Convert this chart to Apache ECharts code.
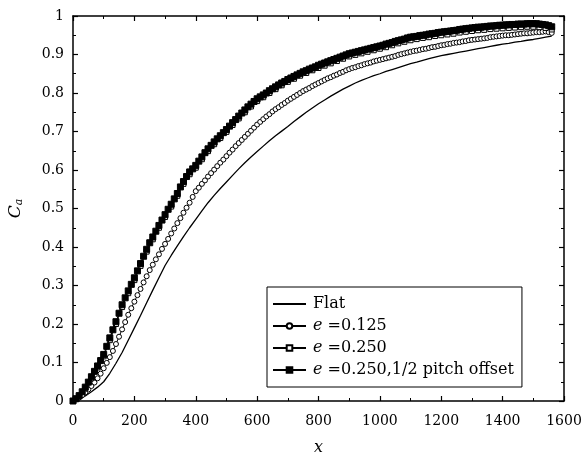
<!DOCTYPE html>
<html>
<head>
<meta charset="utf-8">
<script src="https://cdn.jsdelivr.net/npm/echarts@6/dist/echarts.min.js"></script>
<style>html,body{margin:0;padding:0;background:#fff}#c{width:583px;height:456px}</style>
</head>
<body>
<div id="c"></div>
<script>
// ---- data ----
const seriesNames = ['Flat', 'e =0.125', 'e =0.250', 'e =0.250,1/2 pitch offset'];
const xTickLabels = ['0', '200', '400', '600', '800', '1000', '1200', '1400', '1600'];
const yTickLabels = ['0', '0.1', '0.2', '0.3', '0.4', '0.5', '0.6', '0.7', '0.8', '0.9', '1'];

// Flat: sampled every 20 in x, starting at 0
const flatStep = 20;
const flatValues = [0.000,0.005,0.013,0.024,0.036,0.050,0.072,0.098,0.126,0.158,
0.190,0.222,0.255,0.288,0.320,0.352,0.378,0.403,0.427,0.450,
0.472,0.494,0.515,0.534,0.552,0.569,0.586,0.603,0.619,0.634,
0.648,0.662,0.676,0.689,0.701,0.713,0.726,0.738,0.750,0.761,
0.772,0.782,0.792,0.801,0.810,0.818,0.826,0.833,0.839,0.845,
0.850,0.856,0.861,0.866,0.871,0.876,0.880,0.885,0.889,0.893,
0.897,0.900,0.903,0.906,0.909,0.912,0.915,0.918,0.921,0.924,
0.927,0.929,0.932,0.934,0.937,0.939,0.942,0.945,0.948];

// e=0.125 (open circles): sampled every 10 in x
const e125Step = 10;
const e125Values = [0.000,0.004,0.009,0.015,0.022,0.030,0.039,0.048,0.059,0.071,
0.085,0.099,0.114,0.130,0.148,0.167,0.186,0.205,0.224,0.241,
0.258,0.275,0.291,0.308,0.324,0.340,0.354,0.368,0.381,0.395,
0.408,0.421,0.435,0.448,0.462,0.475,0.489,0.502,0.515,0.530,
0.545,0.554,0.564,0.573,0.583,0.592,0.601,0.610,0.619,0.627,
0.636,0.645,0.653,0.662,0.670,0.678,0.686,0.694,0.702,0.710,
0.718,0.725,0.732,0.739,0.745,0.752,0.758,0.763,0.769,0.774,
0.780,0.785,0.790,0.795,0.800,0.805,0.809,0.813,0.818,0.822,
0.826,0.830,0.834,0.838,0.841,0.845,0.848,0.852,0.855,0.859,
0.862,0.865,0.867,0.870,0.872,0.875,0.877,0.879,0.882,0.884,
0.886,0.888,0.890,0.892,0.894,0.896,0.899,0.901,0.903,0.905,
0.907,0.909,0.910,0.912,0.914,0.915,0.917,0.919,0.920,0.922,
0.924,0.925,0.927,0.928,0.930,0.931,0.932,0.934,0.935,0.937,
0.938,0.939,0.940,0.941,0.942,0.943,0.945,0.946,0.947,0.948,
0.949,0.950,0.950,0.951,0.952,0.953,0.954,0.955,0.955,0.956,
0.957,0.958,0.958,0.959,0.960,0.958,0.956];

// e=0.250 (open squares): sampled every 20 in x
const e250Step = 20;
const e250Values = [0.000,0.012,0.033,0.059,0.087,0.116,0.158,0.200,0.244,0.280,
0.314,0.351,0.388,0.420,0.450,0.478,0.505,0.533,0.564,0.589,
0.606,0.628,0.649,0.667,0.683,0.699,0.717,0.734,0.750,0.765,
0.779,0.789,0.800,0.810,0.820,0.829,0.837,0.845,0.852,0.859,
0.865,0.871,0.877,0.883,0.889,0.895,0.899,0.903,0.907,0.911,
0.915,0.919,0.924,0.929,0.933,0.937,0.940,0.943,0.945,0.948,
0.950,0.952,0.954,0.957,0.959,0.961,0.963,0.964,0.966,0.967,
0.968,0.969,0.970,0.971,0.972,0.972,0.971,0.969,0.965];

// e=0.250, 1/2 pitch offset (filled squares): sampled every 10 in x
const offStep = 10;
const offValues = [0.000,0.006,0.014,0.024,0.036,0.049,0.063,0.077,0.091,0.105,
0.121,0.142,0.164,0.185,0.206,0.228,0.250,0.268,0.286,0.303,
0.320,0.338,0.357,0.376,0.394,0.411,0.426,0.441,0.456,0.470,
0.484,0.498,0.511,0.525,0.539,0.556,0.570,0.583,0.595,0.603,
0.612,0.623,0.634,0.645,0.655,0.664,0.673,0.681,0.689,0.697,
0.705,0.714,0.723,0.731,0.740,0.748,0.756,0.764,0.771,0.778,
0.785,0.790,0.795,0.800,0.806,0.811,0.816,0.821,0.826,0.830,
0.835,0.839,0.843,0.847,0.851,0.855,0.858,0.862,0.865,0.868,
0.872,0.875,0.878,0.881,0.884,0.887,0.890,0.893,0.896,0.899,
0.902,0.904,0.906,0.908,0.910,0.912,0.914,0.916,0.918,0.920,
0.922,0.924,0.927,0.929,0.931,0.934,0.936,0.938,0.940,0.943,
0.945,0.946,0.947,0.949,0.950,0.951,0.953,0.954,0.955,0.957,
0.958,0.959,0.960,0.961,0.962,0.963,0.965,0.966,0.967,0.968,
0.969,0.970,0.971,0.971,0.972,0.973,0.974,0.974,0.975,0.976,
0.976,0.977,0.977,0.978,0.978,0.979,0.979,0.979,0.980,0.980,
0.980,0.980,0.979,0.978,0.977,0.975,0.972];

// ---- chart ----
function pairs(step, vals) { return vals.map((v, i) => [i * step, v]); }

const FONT = 'DejaVu Serif';
const chart = echarts.init(document.getElementById('c'), null, { renderer: 'canvas' });

const axisCommon = {
  axisLine: { show: true, onZero: false, lineStyle: { color: '#000', width: 1.5 } },
  axisTick: { show: true, inside: true, length: 5, lineStyle: { color: '#000', width: 1.2 } },
  minorTick: { show: true, splitNumber: 2, length: 3, lineStyle: { color: '#000', width: 1 } },
  splitLine: { show: false },
  minorSplitLine: { show: false }
};

const xTop = Object.assign({}, axisCommon, {
  type: 'value', position: 'top', min: 0, max: 1600, interval: 200,
  axisLabel: { show: false }
});
const yRight = Object.assign({}, axisCommon, {
  type: 'value', position: 'right', min: 0, max: 1, interval: 0.1,
  axisLabel: { show: false }
});

const legendData = seriesNames.map((n, i) => i === 0
  ? { name: n, itemStyle: { color: 'transparent', borderColor: 'transparent', borderWidth: 0, opacity: 0 } }
  : { name: n });

const option = {
  backgroundColor: '#fff',
  animation: false,
  grid: { left: 73, right: 19, top: 16, bottom: 55, containLabel: false, outerBoundsMode: 'none' },
  xAxis: [
    Object.assign({}, axisCommon, {
      type: 'value', position: 'bottom', min: 0, max: 1600, interval: 200,
      axisLabel: {
        color: '#000', fontFamily: FONT, fontSize: 14, margin: 13,
        formatter: (v) => xTickLabels[Math.round(v / 200)]
      },
      name: 'x', nameLocation: 'middle', nameGap: 39,
      nameTextStyle: { color: '#000', fontFamily: FONT, fontSize: 16, fontStyle: 'italic' }
    }),
    xTop
  ],
  yAxis: [
    Object.assign({}, axisCommon, {
      type: 'value', position: 'left', min: 0, max: 1, interval: 0.1,
      axisLabel: {
        color: '#000', fontFamily: FONT, fontSize: 14, margin: 9,
        formatter: (v) => yTickLabels[Math.round(v * 10)]
      },
      name: '{c|C}{s|a}', nameLocation: 'middle', nameGap: 48,
      nameTextStyle: {
        color: '#000', fontFamily: FONT,
        rich: {
          c: { fontFamily: FONT, fontSize: 17, fontStyle: 'italic', color: '#000' },
          s: { fontFamily: FONT, fontSize: 11, fontStyle: 'italic', color: '#000', verticalAlign: 'bottom', padding: [8, 0, 0, 0] }
        }
      }
    }),
    yRight
  ],
  legend: {
    orient: 'vertical',
    left: 267, top: 287,
    padding: [9, 8, 9, 5],
    itemGap: 6,
    itemWidth: 33, itemHeight: 7,
    borderColor: '#000', borderWidth: 1, borderRadius: 0,
    backgroundColor: '#fff',
    data: legendData,
    formatter: (name) => name === 'Flat' ? 'Flat' : '{i|e}' + name.slice(1),
    textStyle: {
      color: '#000', fontFamily: FONT, fontSize: 16, padding: [0, 0, 0, 2],
      rich: { i: { fontStyle: 'italic', fontFamily: FONT, fontSize: 16, color: '#000' } }
    }
  },
  series: [
    {
      name: seriesNames[0], type: 'line', data: pairs(flatStep, flatValues),
      showSymbol: false, symbol: 'none',
      lineStyle: { color: '#000', width: 1.3 }, itemStyle: { color: '#000' }, z: 2
    },
    {
      name: seriesNames[1], type: 'line', data: pairs(e125Step, e125Values),
      symbol: 'circle', symbolSize: 5, showSymbol: true,
      lineStyle: { color: '#000', width: 1 },
      itemStyle: { color: '#fff', borderColor: '#000', borderWidth: 1 }, z: 3
    },
    {
      name: seriesNames[2], type: 'line', data: pairs(e250Step, e250Values),
      symbol: 'rect', symbolSize: 5, showSymbol: true,
      lineStyle: { color: '#000', width: 1 },
      itemStyle: { color: '#fff', borderColor: '#000', borderWidth: 1 }, z: 3
    },
    {
      name: seriesNames[3], type: 'line', data: pairs(offStep, offValues),
      symbol: 'rect', symbolSize: 6, showSymbol: true,
      lineStyle: { color: '#000', width: 1 },
      itemStyle: { color: '#000', borderColor: '#000', borderWidth: 1 }, z: 4
    }
  ]
};
chart.setOption(option);
</script>
</body>
</html>
